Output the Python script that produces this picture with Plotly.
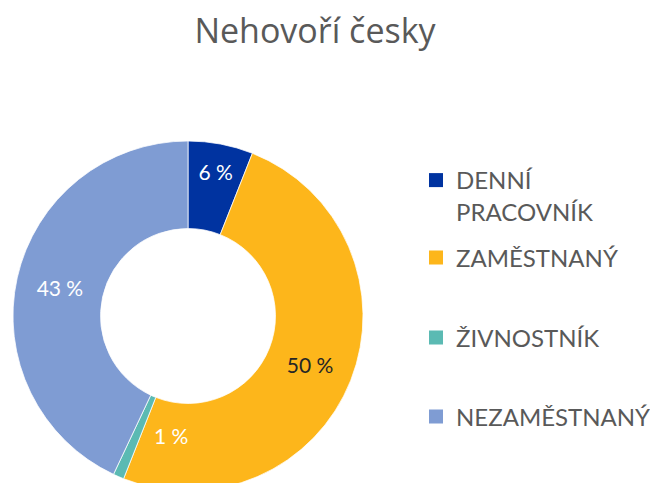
import math
import plotly.graph_objects as go

categories = ["DENNÍ PRACOVNÍK", "ZAMĚSTNANÝ", "ŽIVNOSTNÍK", "NEZAMĚSTNANÝ"]
legend_labels = ["DENNÍ<br>PRACOVNÍK", "ZAMĚSTNANÝ", "ŽIVNOSTNÍK", "NEZAMĚSTNANÝ"]
values = [6, 50, 1, 43]
texts = ["6 %", "50 %", "1 %", "43 %"]
colors = ["#0033A0", "#FDB61B", "#5BBAB3", "#7F9CD3"]
text_colors = ["white", "#262626", "white", "white"]

W, H = 658, 483
cx, cy, r = 180, 308, 175  # figure pixel geometry of the donut
hole = 0.5

# slices too thin for inside text get their label as an annotation
small = [v / sum(values) < 0.03 for v in values]
pie_texts = ["" if s else t for t, s in zip(texts, small)]

fig = go.Figure()
fig.add_trace(go.Pie(
    labels=categories,
    values=values,
    text=pie_texts,
    textinfo="text",
    hole=hole,
    sort=False,
    direction="clockwise",
    rotation=0,
    marker=dict(colors=colors, line=dict(color="white", width=0.75)),
    textposition="inside",
    insidetextorientation="horizontal",
    textfont=dict(family="Lato", size=21, color=text_colors),
    domain=dict(x=[(cx - r) / W, (cx + r) / W], y=[(H - cy - r) / H, (H - cy + r) / H]),
    showlegend=False,
    hoverinfo="label+percent",
))

total = sum(values)
cum = 0
for v, t, s, tc in zip(values, texts, small, text_colors):
    mid = (cum + v / 2) / total * 2 * math.pi
    cum += v
    if not s:
        continue
    rm = r * (1 + hole) / 2
    fig.add_annotation(
        x=(cx + rm * math.sin(mid)) / W, y=1 - (cy - rm * math.cos(mid)) / H,
        xref="paper", yref="paper", text=t, showarrow=False, xshift=16, yshift=-14,
        font=dict(family="Lato", size=21, color=tc),
    )

# legend entries (one legend per entry so spacing can follow the original)
legend_y = [188, 250, 330, 409]
legend_names = ["legend", "legend2", "legend3", "legend4"]
for i, (lab, col) in enumerate(zip(legend_labels, colors)):
    fig.add_trace(go.Scatter(
        x=[None], y=[None], mode="markers", name=lab,
        marker=dict(symbol="square", size=14, color=col),
        legend=legend_names[i], showlegend=True, hoverinfo="skip",
    ))

layout_legends = {}
for i, nm in enumerate(legend_names):
    layout_legends[nm] = dict(
        x=408 / W, xanchor="left", y=1 - legend_y[i] / H, yanchor="middle",
        valign="top", font=dict(family="Lato", size=24, color="#595959"),
        itemwidth=30, bgcolor="rgba(0,0,0,0)",
    )

fig.update_layout(
    width=W, height=H,
    margin=dict(l=0, r=0, t=0, b=0),
    paper_bgcolor="white",
    plot_bgcolor="white",
    xaxis=dict(visible=False),
    yaxis=dict(visible=False),
    title=dict(text="Nehovoří česky", x=307 / W, xanchor="center", y=1 - 23 / H, yanchor="middle",
               font=dict(family="Open Sans", size=34, color="#595959")),
    uniformtext=dict(minsize=18, mode="show"),
    **layout_legends,
)

fig.write_html("out.html")
